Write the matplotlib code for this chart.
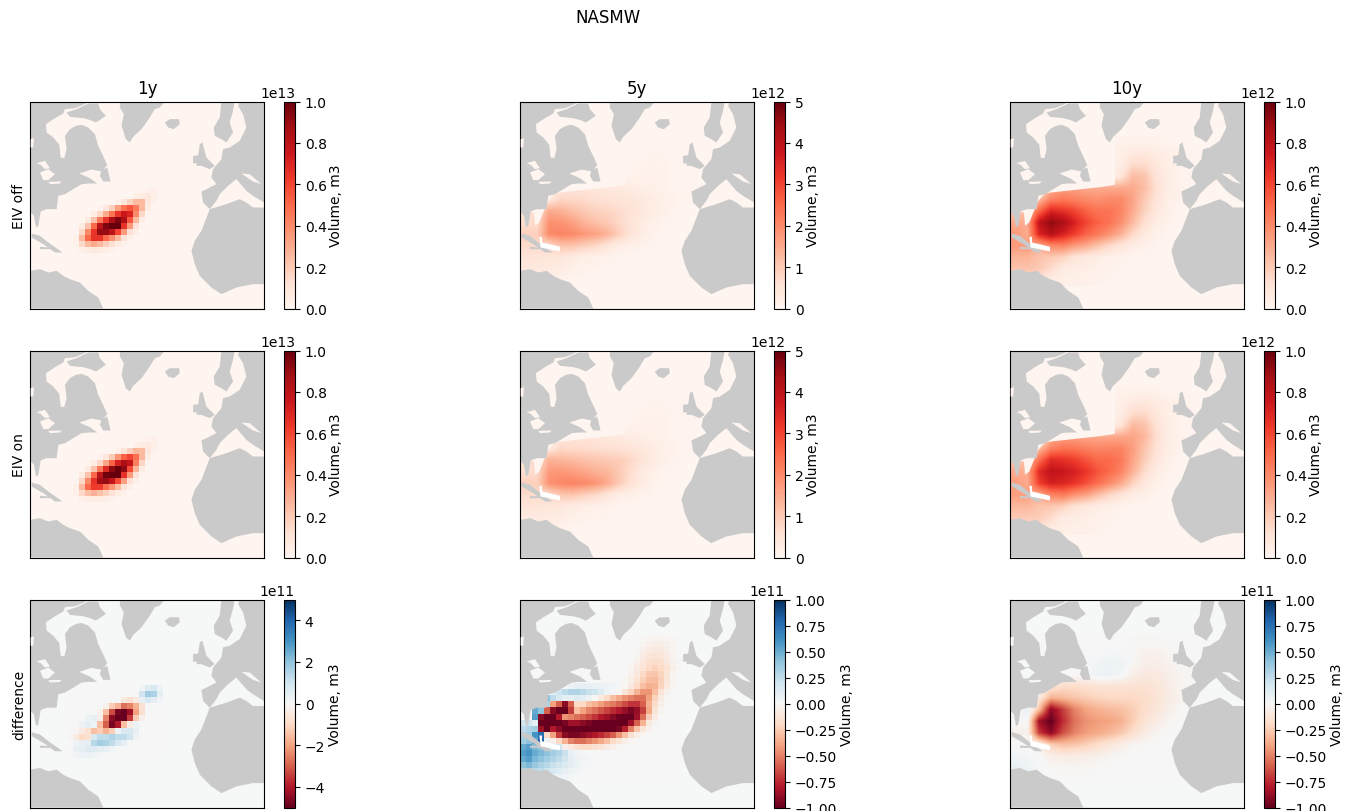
import numpy as np
import matplotlib
matplotlib.use('Agg')
import matplotlib.pyplot as plt
from matplotlib.cm import ScalarMappable
from matplotlib.colors import Normalize
from matplotlib.patches import Polygon

FIG_W, FIG_H = 1355, 812

columns = ['1y', '5y', '10y']
row_names = ['EIV off', 'EIV on', 'difference']

# scale of each panel: colour limit (m3)
scales = [[1e13, 5e12, 1e12], [1e13, 5e12, 1e12], [5e11, 1e11, 1e11]]
ticks_top = [[0.0, 0.2, 0.4, 0.6, 0.8, 1.0], [0, 1, 2, 3, 4, 5], [0.0, 0.2, 0.4, 0.6, 0.8, 1.0]]
ticks_mid = [[0.0, 0.2, 0.4, 0.6, 0.8, 1.0], [0, 1, 2, 3, 4, 5], [0.0, 0.2, 0.4, 0.6, 0.8, 1.0]]
ticks_low = [[-4, -2, 0, 2, 4],
             [-1.0, -0.75, -0.5, -0.25, 0.0, 0.25, 0.5, 0.75, 1.0],
             [-1.0, -0.75, -0.5, -0.25, 0.0, 0.25, 0.5, 0.75, 1.0]]
tick_scale = [[1e13, 1e12, 1e12], [1e13, 1e12, 1e12], [1e11, 1e11, 1e11]]

# fine grid for the 1y runs: percent of the colour limit
off_1y = [
    [0, 0, 0, 0, 0, 0, 0, 0, 0, 0, 0, 0, 0, 2, 3, 1],
    [0, 0, 0, 0, 0, 0, 0, 0, 0, 0, 0, 3, 6, 8, 3, 1],
    [0, 0, 0, 0, 0, 0, 0, 0, 3, 8, 17, 25, 25, 8, 2, 0],
    [0, 0, 0, 0, 0, 2, 8, 18, 33, 47, 55, 45, 25, 5, 0, 0],
    [0, 0, 0, 0, 5, 15, 30, 47, 65, 75, 70, 40, 15, 1, 0, 0],
    [0, 0, 0, 7, 22, 45, 65, 85, 95, 85, 55, 25, 5, 0, 0, 0],
    [0, 0, 6, 22, 50, 80, 95, 100, 100, 65, 35, 10, 1, 0, 0, 0],
    [0, 1, 15, 40, 65, 90, 90, 80, 60, 35, 12, 3, 0, 0, 0, 0],
    [0, 3, 25, 50, 65, 65, 50, 38, 25, 10, 3, 0, 0, 0, 0, 0],
    [0, 3, 15, 25, 30, 25, 18, 12, 6, 2, 0, 0, 0, 0, 0, 0],
    [0, 0, 3, 6, 7, 6, 4, 2, 1, 0, 0, 0, 0, 0, 0, 0],
    [0, 0, 0, 1, 1, 1, 0, 0, 0, 0, 0, 0, 0, 0, 0, 0],
]
on_1y = [
    [0, 0, 0, 0, 0, 0, 0, 0, 0, 0, 0, 0, 0, 2, 3, 1],
    [0, 0, 0, 0, 0, 0, 0, 0, 0, 0, 0, 3, 6, 7, 3, 1],
    [0, 0, 0, 0, 0, 0, 0, 0, 3, 9, 18, 26, 25, 8, 2, 0],
    [0, 0, 0, 0, 0, 2, 8, 19, 36, 52, 60, 48, 26, 5, 0, 0],
    [0, 0, 0, 0, 5, 15, 32, 52, 72, 85, 78, 43, 16, 1, 0, 0],
    [0, 0, 0, 7, 22, 45, 68, 92, 100, 92, 58, 26, 5, 0, 0, 0],
    [0, 0, 6, 22, 50, 80, 98, 100, 100, 66, 35, 10, 1, 0, 0, 0],
    [0, 1, 15, 40, 66, 88, 90, 78, 58, 33, 12, 3, 0, 0, 0, 0],
    [0, 3, 25, 50, 63, 62, 48, 36, 24, 9, 3, 0, 0, 0, 0, 0],
    [0, 3, 15, 24, 28, 23, 17, 11, 6, 2, 0, 0, 0, 0, 0, 0],
    [0, 0, 3, 5, 6, 5, 4, 2, 1, 0, 0, 0, 0, 0, 0, 0],
    [0, 0, 0, 1, 1, 1, 0, 0, 0, 0, 0, 0, 0, 0, 0, 0],
]
diff_1y = [
    [0, 0, 0, 0, 0, 0, 0, 0, 0, 0, 0, 0, 3, 12, 16, 6],
    [0, 0, 0, 0, 0, 0, 0, 0, 0, 0, 0, 0, 18, 35, 32, 10],
    [0, 0, 0, 0, 0, 0, 0, 0, 0, -10, -15, -8, 8, 15, 10, 3],
    [0, 0, 0, 0, 0, 0, -5, -25, -35, -55, -50, -35, -15, 0, 0, 0],
    [0, 0, 0, 0, 0, -5, -30, -65, -95, -100, -85, -40, -15, 0, 0, 0],
    [0, 0, 0, 5, 8, -5, -50, -90, -100, -100, -70, -25, -5, 0, 0, 0],
    [0, 0, 5, 10, 5, -30, -60, -95, -80, -30, -8, 5, 0, 0, 0, 0],
    [0, -3, -8, -15, -30, -25, -35, -25, 5, 15, 15, 8, 0, 0, 0, 0],
    [-3, -8, -20, -15, 15, 25, 25, 30, 25, 25, 18, 5, 0, 0, 0, 0],
    [0, 5, 8, 10, 28, 35, 32, 25, 15, 8, 0, 0, 0, 0, 0, 0],
    [0, 8, 10, 13, 13, 10, 8, 4, 0, 0, 0, 0, 0, 0, 0, 0],
    [0, 3, 6, 6, 4, 2, 0, 0, 0, 0, 0, 0, 0, 0, 0, 0],
]

# coarse grid for the 5y and 10y runs
off_5y = [
    [0, 0, 0, 0, 0, 0, 0, 0, 0, 0, 0, 1, 0, 0, 0, 0, 0],
    [0, 0, 0, 0, 0, 0, 0, 0, 0, 1, 1, 2, 1, 1, 0, 0, 0],
    [0, 0, 0, 0, 0, 0, 0, 0, 0, 1, 2, 2, 2, 1, 1, 0, 0],
    [0, 0, 0, 0, 0, 0, 0, 0, 1, 2, 3, 3, 2, 1, 1, 0, 0],
    [0, 0, 0, 9, 10, 10, 9, 8, 7, 5, 4, 3, 2, 1, 1, 0, 0],
    [0, 0, 8, 16, 15, 14, 12, 11, 10, 9, 7, 5, 3, 2, 1, 0, 0],
    [12, 15, 30, 28, 24, 20, 17, 16, 14, 11, 8, 5, 3, 1, 0, 0, 0],
    [12, 15, 38, 37, 33, 27, 23, 20, 15, 10, 5, 3, 1, 0, 0, 0, 0],
    [18, 18, 40, 42, 40, 36, 33, 27, 18, 10, 5, 2, 1, 0, 0, 0, 0],
    [14, 14, 14, 22, 22, 18, 15, 9, 5, 3, 2, 1, 0, 0, 0, 0, 0],
    [10, 10, 9, 9, 6, 4, 3, 2, 1, 1, 0, 0, 0, 0, 0, 0, 0],
    [7, 7, 7, 5, 3, 2, 2, 1, 1, 0, 0, 0, 0, 0, 0, 0, 0],
    [5, 5, 3, 2, 1, 1, 0, 0, 0, 0, 0, 0, 0, 0, 0, 0, 0],
]
on_5y = [
    [0, 0, 0, 0, 0, 0, 0, 0, 0, 0, 0, 1, 0, 0, 0, 0, 0],
    [0, 0, 0, 0, 0, 0, 0, 0, 0, 1, 1, 2, 1, 1, 0, 0, 0],
    [0, 0, 0, 0, 0, 0, 0, 0, 0, 1, 2, 2, 2, 1, 1, 0, 0],
    [0, 0, 0, 0, 0, 0, 0, 0, 1, 2, 3, 3, 2, 1, 1, 0, 0],
    [0, 0, 0, 9, 10, 10, 9, 8, 7, 5, 4, 3, 2, 1, 1, 0, 0],
    [0, 0, 8, 15, 14, 14, 13, 12, 11, 10, 8, 5, 3, 2, 1, 0, 0],
    [12, 15, 28, 26, 25, 23, 21, 20, 19, 15, 10, 6, 3, 1, 0, 0, 0],
    [12, 15, 35, 36, 34, 31, 28, 26, 20, 13, 6, 3, 1, 0, 0, 0, 0],
    [18, 18, 38, 41, 42, 40, 37, 30, 20, 11, 5, 2, 1, 0, 0, 0, 0],
    [14, 14, 14, 21, 22, 18, 15, 9, 5, 3, 2, 1, 0, 0, 0, 0, 0],
    [10, 10, 9, 8, 6, 4, 3, 2, 1, 1, 0, 0, 0, 0, 0, 0, 0],
    [6, 6, 6, 5, 3, 2, 2, 1, 1, 0, 0, 0, 0, 0, 0, 0, 0],
    [4, 4, 3, 2, 1, 1, 0, 0, 0, 0, 0, 0, 0, 0, 0, 0, 0],
]
off_10y = [
    [0, 0, 0, 0, 0, 0, 0, 0, 1, 2, 2, 2, 2, 1, 1, 0, 0],
    [0, 0, 0, 0, 0, 0, 0, 0, 2, 4, 7, 8, 6, 4, 2, 1, 0],
    [0, 0, 0, 0, 0, 0, 0, 1, 2, 5, 14, 14, 8, 4, 2, 1, 0],
    [0, 0, 0, 0, 0, 0, 0, 1, 3, 9, 25, 22, 10, 5, 2, 1, 0],
    [0, 0, 0, 28, 32, 32, 30, 30, 30, 30, 30, 24, 12, 5, 2, 1, 0],
    [0, 0, 25, 42, 45, 43, 40, 38, 40, 40, 32, 20, 10, 4, 2, 1, 0],
    [20, 25, 50, 70, 66, 60, 52, 47, 47, 42, 30, 17, 8, 3, 1, 0, 0],
    [30, 30, 78, 92, 85, 72, 60, 52, 47, 38, 25, 12, 5, 2, 1, 0, 0],
    [35, 30, 70, 82, 72, 62, 52, 45, 37, 28, 15, 7, 3, 1, 0, 0, 0],
    [35, 35, 30, 40, 42, 35, 30, 22, 15, 9, 5, 3, 1, 0, 0, 0, 0],
    [27, 27, 22, 20, 17, 10, 7, 5, 3, 2, 1, 1, 0, 0, 0, 0, 0],
    [22, 22, 20, 14, 6, 5, 4, 3, 2, 1, 1, 0, 0, 0, 0, 0, 0],
    [15, 15, 10, 5, 4, 3, 3, 2, 1, 1, 0, 0, 0, 0, 0, 0, 0],
]
on_10y = [
    [0, 0, 0, 0, 0, 0, 0, 0, 1, 2, 2, 2, 2, 1, 1, 0, 0],
    [0, 0, 0, 0, 0, 0, 0, 0, 2, 4, 7, 8, 6, 4, 2, 1, 0],
    [0, 0, 0, 0, 0, 0, 0, 1, 2, 5, 14, 15, 8, 4, 2, 1, 0],
    [0, 0, 0, 0, 0, 0, 0, 1, 3, 10, 26, 23, 11, 5, 2, 1, 0],
    [0, 0, 0, 28, 33, 33, 31, 31, 31, 31, 32, 26, 13, 5, 2, 1, 0],
    [0, 0, 25, 42, 47, 46, 43, 41, 42, 42, 34, 22, 11, 5, 2, 1, 0],
    [20, 24, 48, 68, 66, 62, 56, 50, 50, 45, 32, 19, 9, 3, 1, 0, 0],
    [30, 30, 68, 78, 76, 72, 65, 56, 50, 42, 28, 14, 6, 2, 1, 0, 0],
    [34, 30, 62, 72, 70, 65, 57, 49, 40, 31, 17, 8, 3, 1, 0, 0, 0],
    [34, 34, 30, 42, 45, 38, 33, 24, 16, 10, 5, 3, 1, 0, 0, 0, 0],
    [26, 26, 22, 21, 18, 11, 8, 5, 3, 2, 1, 1, 0, 0, 0, 0, 0],
    [20, 20, 19, 14, 6, 5, 4, 3, 2, 1, 1, 0, 0, 0, 0, 0, 0],
    [14, 14, 10, 5, 4, 3, 3, 2, 1, 1, 0, 0, 0, 0, 0, 0, 0],
]
diff_10y = [
    [0, 0, 0, 0, 0, 0, 0, 0, 0, 0, -1, -1, -1, 0, 0, 0, 0],
    [0, 0, 0, 0, 0, 0, 0, 0, 1, 1, -1, -4, -4, -2, -1, 0, 0],
    [0, 0, 0, 0, 0, 0, 0, 3, 5, 5, -1, -6, -6, -4, -2, -1, 0],
    [0, 0, 0, 0, 0, 0, 1, 5, 6, 2, -6, -10, -10, -6, -3, -1, 0],
    [0, 0, 0, -12, -18, -18, -16, -14, -14, -14, -15, -15, -12, -8, -3, -1, 0],
    [0, 0, -10, -35, -32, -28, -25, -22, -20, -20, -20, -18, -14, -8, -4, -1, 0],
    [0, 8, -30, -90, -70, -50, -40, -35, -32, -30, -25, -18, -12, -6, -2, 0, 0],
    [0, 0, -85, -100, -75, -55, -45, -42, -40, -35, -25, -14, -8, -3, -1, 0, 0],
    [-5, -5, -70, -90, -65, -50, -42, -38, -33, -27, -17, -8, -3, -1, 0, 0, 0],
    [0, 0, -5, -25, -30, -28, -24, -18, -12, -7, -3, -1, 0, 0, 0, 0, 0],
    [3, 2, 0, -6, -8, -8, -6, -5, -3, -1, 0, 0, 0, 0, 0, 0, 0],
    [8, 5, 1, -1, -2, -2, -2, -1, 0, 0, 0, 0, 0, 0, 0, 0, 0],
    [3, 2, 1, 0, 0, 0, 0, 0, 0, 0, 0, 0, 0, 0, 0, 0, 0],
]
# 5y difference has sharp coastal cells, so it is on the fine grid (rows padded below)
diff_5y = [
    [0, 0, 0, 0, 0, 0, 0, 0, 0, 0, 0, 0, 0, 0, 0, 0, 0, 0, 0, 0, -1, -2, -3, -3, -2, -1],
    [0, 0, 0, 0, 0, 0, 0, 0, 0, 0, 0, 0, 0, 0, 0, 0, 0, 0, 0, 0, -3, -5, -6, -6, -4, -2],
    [0, 0, 0, 0, 0, 0, 0, 0, 0, 0, 0, 0, 0, 0, 0, 0, 0, 0, 0, -2, -5, -8, -9, -9, -6, -3],
    [0, 0, 0, 0, 0, 0, 0, 0, 0, 0, 0, 0, 0, 0, 0, 0, 0, 0, 0, -3, -8, -12, -13, -12, -8, -3],
    [0, 0, 0, 0, 0, 0, 0, 0, 0, 0, 0, 0, 0, 0, 0, 0, 0, 0, -1, -5, -11, -16, -18, -16, -10, -4, -1],
    [0, 0, 0, 0, 0, 0, 0, 0, 0, 0, 0, 0, 0, 0, 0, 0, 0, 0, -2, -8, -14, -20, -22, -20, -14, -6, -1],
    [0, 0, 0, 0, 0, 0, 0, 0, 0, 0, 0, 0, 0, 0, 0, 0, 0, 0, -4, -10, -20, -27, -28, -22, -12, -3],
    [0, 0, 0, 0, 0, 0, 0, 0, 0, 0, 0, 0, 0, 0, 0, 0, 0, -2, -6, -14, -24, -30, -32, -24, -12, -3],
    [0, 0, 0, 0, 0, 0, 0, 0, 5, 8, 8, 8, 7, 6, 5, 3, 1, -2, -10, -20, -30, -36, -34, -22, -10, -3],
    [0, 0, 0, 0, 0, 10, 20, 25, 30, 30, 27, 22, 20, 12, 5, 2, -3, -12, -22, -34, -44, -44, -30, -14, -4],
    [0, 0, 0, 0, 40, 25, 15, 10, 10, 12, 10, 5, 0, -10, -20, -30, -38, -45, -50, -55, -55, -40, -22, -8, -2],
    [0, 0, 0, 50, 30, -40, -60, -90, -60, -20, -20, -30, -35, -42, -48, -52, -58, -65, -72, -72, -60, -35, -18, -5],
    [0, 0, 50, 40, -60, -90, -100, -100, -70, -30, -40, -50, -55, -62, -68, -75, -80, -88, -95, -88, -68, -38, -12, -3],
    [0, 0, 55, -90, -100, -100, -80, -45, -50, -55, -60, -65, -72, -80, -85, -92, -98, -100, -100, -85, -55, -25, -8],
    [20, 20, 10, -100, -100, -100, -100, -95, -85, -85, -90, -95, -100, -100, -100, -100, -100, -100, -85, -60, -35, -10, -3],
    [25, 30, 35, -85, -100, -80, -90, -100, -100, -100, -100, -100, -100, -100, -100, -100, -95, -78, -50, -28, -12, -4],
    [30, 35, 60, 75, -20, -40, -70, -90, -95, -95, -90, -85, -80, -75, -68, -60, -45, -30, -15, -6, -2],
    [35, 40, 50, 80, 5, -5, -20, -35, -50, -55, -55, -50, -45, -38, -30, -20, -12, -6, -2],
    [50, 55, 45, 40, 30, 20, 20, -5, -10, -15, -18, -18, -15, -12, -8, -5, -2],
    [55, 60, 50, 45, 40, 35, 30, 22, 8, 3, 1],
    [50, 55, 45, 40, 35, 30, 25, 18, 10, 6, 3, 1],
    [40, 45, 38, 32, 28, 22, 18, 14, 9, 5, 2, 1],
    [30, 30, 28, 25, 20, 15, 12, 8, 5, 3, 1],
    [15, 15, 15, 12, 8, 6, 4, 3, 1],
]

# land outlines, in map units of the panel (x 30-733, y 22-643 downwards)
land = [
    [(30, 22), (205, 22), (190, 32), (165, 42), (135, 45), (130, 58), (105, 72), (78, 90), (80, 115), (100, 130),
     (118, 152), (122, 190), (133, 192), (140, 165), (135, 125), (150, 105), (168, 95), (185, 92), (205, 100),
     (225, 120), (235, 155), (252, 190), (262, 213), (245, 232), (215, 226), (178, 238), (210, 252), (232, 268),
     (205, 268), (185, 270), (160, 285), (135, 300), (115, 305), (110, 345), (80, 345), (62, 352), (55, 395),
     (48, 400), (42, 365), (30, 352)],
    [(245, 228), (262, 220), (272, 262), (250, 262), (240, 245)],
    [(140, 55), (170, 45), (205, 28), (235, 28), (240, 45), (258, 65), (228, 85), (212, 78), (190, 72), (170, 70),
     (150, 68)],
    [(300, 22), (435, 22), (420, 40), (405, 45), (390, 70), (365, 105), (340, 128), (330, 145), (318, 135),
     (305, 95), (312, 60), (300, 40)],
    [(435, 85), (450, 75), (478, 75), (480, 90), (462, 105), (445, 100)],
    [(35, 418), (60, 425), (85, 445), (128, 475), (105, 475), (70, 450), (35, 430)],
    [(60, 458), (90, 460), (90, 465), (60, 465)],
    [(30, 530), (60, 525), (85, 535), (110, 530), (130, 545), (150, 555), (180, 565), (205, 590), (235, 610),
     (250, 643), (30, 643)],
    [(570, 345), (620, 330), (660, 315), (680, 325), (700, 340), (733, 340), (733, 570), (700, 570), (650, 580),
     (605, 600), (575, 580), (540, 545), (525, 510), (515, 470), (525, 440), (545, 410)],
    [(605, 22), (645, 22), (640, 50), (630, 85), (640, 115), (620, 145), (605, 135), (585, 125), (582, 100), (600, 70)],
    [(733, 22), (660, 22), (655, 35), (670, 60), (680, 100), (660, 140), (630, 160), (610, 165), (605, 195), (580, 225),
     (575, 250), (590, 270), (560, 285), (545, 292), (550, 325), (570, 345), (590, 320), (600, 300), (625, 275),
     (650, 255), (680, 290), (700, 305), (725, 320), (733, 325)],
    [(540, 150), (548, 145), (560, 190), (585, 215), (570, 225), (545, 215), (530, 215), (535, 185)],
    [(520, 185), (538, 183), (535, 207), (520, 208)],
]
lakes = [
    [(50, 207), (75, 200), (90, 222), (75, 225), (62, 212)],
    [(60, 235), (85, 225), (105, 240), (85, 258), (70, 258)],
    [(85, 263), (125, 262), (120, 268), (90, 270)],
    [(32, 135), (42, 132), (40, 160), (32, 160)],
    [(665, 238), (690, 240), (725, 270), (700, 262)],
]
cuba_gap = [(88, 428), (96, 428), (96, 445), (150, 458), (150, 472), (92, 460)]
# water north of the shelf edge, where the coarse fields stop sharply
shelf_mask = [(30, 22), (345, 22), (345, 272), (300, 279), (135, 297), (115, 320), (100, 355), (88, 385), (75, 395),
              (72, 355), (30, 350)]

left_px = [30, 520, 1010]
top_px = [102.5, 351.5, 600.5]
bottom_px = [309.5, 558.5, 808.5]
axes_w = 234
bar_dx = 20
bar_w = 11


def fine_or_coarse(col, row):
    # x0, y0, cell width, cell height, interpolation
    if col == 0:
        return 140, 280, 18, 18, 'nearest'
    if col == 1 and row == 2:
        return 30, 130, 18, 18, 'nearest'
    return 30, 126, 35, 34.5, 'bilinear'


grids = [[off_1y, off_5y, off_10y], [on_1y, on_5y, on_10y], [diff_1y, diff_5y, diff_10y]]

fig = plt.figure(figsize=(FIG_W / 100, FIG_H / 100), dpi=100)
fig.text(608 / FIG_W, 1 - 18 / FIG_H, 'NASMW', ha='center', va='center', fontsize=12)

for r in range(3):
    for c in range(3):
        pos = [left_px[c] / FIG_W, 1 - bottom_px[r] / FIG_H, axes_w / FIG_W, (bottom_px[r] - top_px[r]) / FIG_H]
        ax = fig.add_axes(pos)
        cmap = plt.get_cmap('RdBu' if r == 2 else 'Reds')
        vmax = scales[r][c]
        norm = Normalize(-vmax, vmax) if r == 2 else Normalize(0, vmax)
        ax.set_facecolor(cmap(norm(0)))

        rows = grids[r][c]
        n = max(len(x) for x in rows)
        values = np.array([x + [0] * (n - len(x)) for x in rows], dtype=float) / 100 * vmax
        x0, y0, dx, dy, interp = fine_or_coarse(c, r)
        ax.imshow(values, cmap=cmap, norm=norm, interpolation=interp, aspect='auto', origin='upper',
                  extent=(x0, x0 + dx * values.shape[1], y0 + dy * values.shape[0], y0), zorder=1)

        if interp == 'bilinear' and r < 2:
            ax.add_patch(Polygon(shelf_mask, closed=True, fc=cmap(norm(0)), ec='none', zorder=1.5))
        for outline in land:
            ax.add_patch(Polygon(outline, closed=True, fc='#cacaca', ec='none', zorder=2))
        for outline in lakes:
            ax.add_patch(Polygon(outline, closed=True, fc=cmap(norm(0)), ec='none', zorder=3))
        if c > 0:
            ax.add_patch(Polygon(cuba_gap, closed=True, fc='white', ec='none', zorder=3))

        ax.set_xlim(30, 733)
        ax.set_ylim(643, 22)
        ax.set_xticks([])
        ax.set_yticks([])
        if r == 0:
            ax.set_title(columns[c], fontsize=12, pad=6)
        if c == 0:
            ax.set_ylabel(row_names[r], fontsize=10, labelpad=3)

        cax = fig.add_axes([(left_px[c] + axes_w + bar_dx) / FIG_W, pos[1], bar_w / FIG_W, pos[3]])
        cb = fig.colorbar(ScalarMappable(norm=norm, cmap=cmap), cax=cax)
        tick_list = [ticks_top, ticks_mid, ticks_low][r][c]
        cb.set_ticks([t * tick_scale[r][c] for t in tick_list])
        cb.set_label('Volume, m3', fontsize=10, labelpad=2)
        cb.ax.tick_params(labelsize=10)

fig.savefig('out.png', dpi=100)
